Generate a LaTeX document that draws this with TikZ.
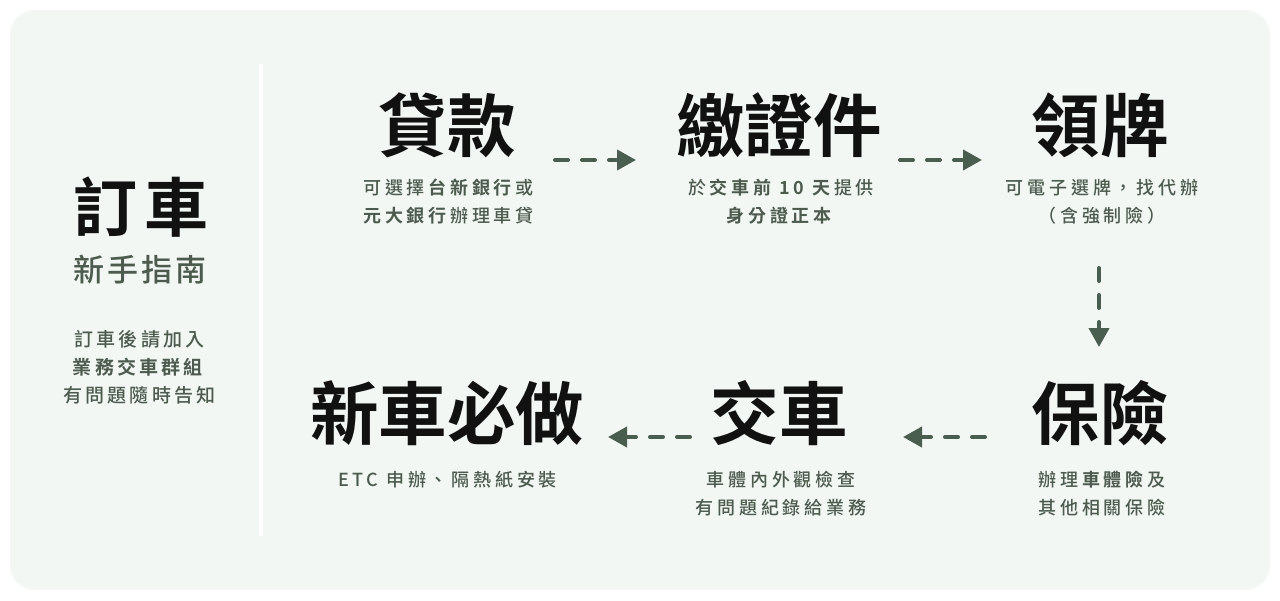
\documentclass[tikz,border=0pt]{standalone}
\usepackage{fontspec}
\setmainfont{Noto Sans CJK TC}[BoldFont={Noto Sans CJK TC Bold}]
\newfontfamily\subfont{Noto Sans CJK TC Medium}[BoldFont={Noto Sans CJK TC Bold},LetterSpace=21]
\newfontfamily\leftfont{Noto Sans CJK TC Medium}[BoldFont={Noto Sans CJK TC Bold},LetterSpace=17]
\newfontfamily\guidefont{Noto Sans CJK TC Medium}[LetterSpace=9]
\usetikzlibrary{arrows.meta}
\definecolor{panel}{HTML}{F3F7F4}
\definecolor{sage}{HTML}{4C5B4E}
\definecolor{arrowc}{HTML}{4A5E4F}
\definecolor{ink}{HTML}{111111}
\begin{document}
\begin{tikzpicture}[x=1pt,y=-1pt,
  title/.style={inner sep=0pt, text=ink, font=\fontsize{68.5}{72}\selectfont\bfseries},
  sub/.style={inner sep=0pt, text=sage, align=center, font=\subfont\fontsize{18}{28}\selectfont},
  flow/.style={draw=arrowc, line width=4pt, line cap=round, dash pattern=on 13pt off 14pt, -{Triangle[length=19pt,width=20pt]}}]
\path[use as bounding box] (0,0) rectangle (1280,600);
\fill[white] (0,0) rectangle (1280,600);
\fill[panel, rounded corners=25pt] (10,10) rectangle (1270,590);
\draw[white, line width=4pt] (260.5,64) -- (260.5,536);

% left panel
\node[inner sep=0pt, text=ink, font=\fontsize{64}{66}\selectfont\bfseries\addfontfeature{LetterSpace=11}] (order) at (141,207) {訂車};
\node[inner sep=0pt, text=sage, font=\guidefont\fontsize{31}{34}\selectfont] (guide) at (140,270) {新手指南};
\node[inner sep=0pt, text=sage, align=center, font=\leftfont\fontsize{19}{28}\selectfont] (note) at (139.5,367) {訂車後請加入\\\textbf{業務交車群組}\\有問題隨時告知};

% titles
\node[title] (loan) at (447,125) {貸款};
\node[title] (docs) at (779,125) {繳證件};
\node[title] (plate) at (1100,125) {領牌};
\node[title] (ins) at (1100,413) {保險};
\node[title] (deliv) at (779,413) {交車};
\node[title] (must) at (447,413) {新車必做};

% descriptions
\node[sub] (loand) at (448.5,202) {可選擇\textbf{台新銀行}或\\\textbf{元大銀行}辦理車貸};
\node[sub] (docsd) at (781,202) {於\textbf{交車前 10 天}提供\\\textbf{身分證正本}};
\node[sub] (plated) at (1102,202) {可電子選牌，找代辦\\（含強制險）};
\node[sub] (insd) at (1102,494) {辦理\textbf{車體險}及\\其他相關保險};
\node[sub] (delivd) at (781,494) {車體內外觀檢查\\有問題紀錄給業務};
\node[sub] (mustd) at (447.5,480) {ETC 申辦、隔熱紙安裝};

% connectors
\coordinate (a1s) at (555,160); \coordinate (a1e) at (636,160);
\coordinate (a2s) at (900,160); \coordinate (a2e) at (982,160);
\coordinate (a3s) at (1099,268); \coordinate (a3e) at (1099,347);
\coordinate (a4s) at (985,437); \coordinate (a4e) at (903,437);
\coordinate (a5s) at (690,437); \coordinate (a5e) at (608,437);
\draw[flow] (a1s) -- (a1e);
\draw[flow] (a2s) -- (a2e);
\draw[flow] (a3s) -- (a3e);
\draw[flow] (a4s) -- (a4e);
\draw[flow] (a5s) -- (a5e);
\end{tikzpicture}
\end{document}
